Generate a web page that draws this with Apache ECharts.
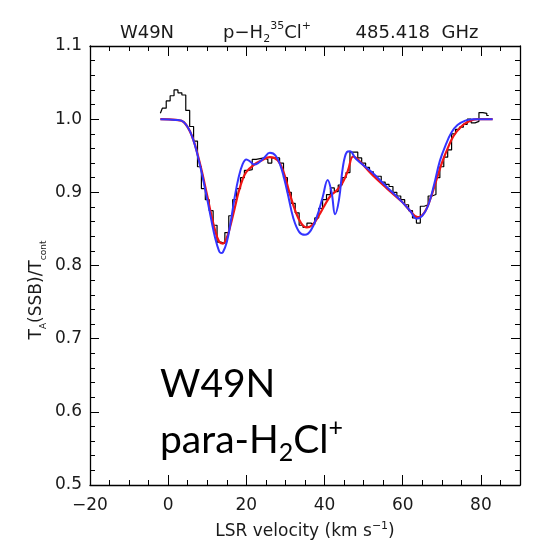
<!DOCTYPE html>
<html><head><meta charset="utf-8">
<script src="https://cdn.jsdelivr.net/npm/echarts@6/dist/echarts.min.js"></script>
<style>html,body{margin:0;padding:0;background:#fff}#c{width:540px;height:548px}</style>
</head><body><div id="c"></div>
<script>
// Observed spectrum (histogram), velocity in km/s
const obsV = [-2,-1,0,1,2,3,4,5,6,7,8,9,10,11,12,13,14,15,16,17,18,19,20,21,22,23,24,25,26,27,28,29,30,31,32,33,34,35,36,37,38,39,40,41,42,43,44,45,46,47,48,49,50,51,52,53,54,55,56,57,58,59,60,61,62,63,64,65,66,67,68,69,70,71,72,73,74,75,76,77,78,79,80,81,82];
const obsT = [1.008,1.015,1.025,1.032,1.040,1.036,1.033,1.012,0.990,0.970,0.935,0.905,0.890,0.875,0.855,0.832,0.830,0.845,0.868,0.890,0.905,0.920,0.930,0.931,0.945,0.946,0.947,0.945,0.940,0.947,0.947,0.940,0.920,0.900,0.885,0.872,0.855,0.852,0.858,0.856,0.865,0.878,0.890,0.897,0.906,0.901,0.910,0.920,0.927,0.955,0.955,0.947,0.940,0.934,0.928,0.922,0.922,0.914,0.911,0.908,0.900,0.895,0.890,0.883,0.875,0.865,0.858,0.881,0.883,0.895,0.897,0.920,0.935,0.948,0.958,0.980,0.986,0.989,0.993,1.000,0.995,0.997,1.009,1.008,1.005];
// Model 1 (blue)
const blueV = [-2,2,4,6,8,10,11,12,13,13.5,14,15,16,17,18,19,20,21,22,23,24.5,26,27.5,29,30.5,32,33.5,35,36.5,38,39.5,40.8,41.8,42.7,43.7,44.7,45.7,46.5,48,52,56,60,62,63.5,65,66.5,68,69.5,71,72.5,74,76,78,83];
const blueT = [1.0,0.999,0.996,0.978,0.94,0.89,0.863,0.838,0.82,0.817,0.818,0.832,0.86,0.893,0.92,0.938,0.945,0.942,0.938,0.94,0.947,0.954,0.95,0.932,0.9,0.865,0.846,0.842,0.848,0.866,0.893,0.917,0.9,0.87,0.89,0.935,0.955,0.956,0.946,0.928,0.907,0.886,0.874,0.864,0.868,0.882,0.91,0.943,0.965,0.982,0.992,0.998,1.0,1.0];
// Model 2 (red)
const redV = [-2,2,4,6,8,10,11,12,13,14,15,16,17,18,19,20,22,24,26,28,29.5,31,32.5,34,35.5,37,38.5,40,41.5,43,44.5,46,47.3,48.5,52,56,60,62,63.8,65.5,67,68.5,70,71.5,73,75,77,79,83];
const redT = [1.0,0.999,0.996,0.978,0.942,0.895,0.87,0.848,0.833,0.83,0.838,0.856,0.878,0.9,0.917,0.928,0.938,0.944,0.948,0.944,0.928,0.9,0.875,0.858,0.852,0.856,0.868,0.882,0.895,0.902,0.912,0.93,0.949,0.945,0.925,0.905,0.886,0.874,0.866,0.872,0.89,0.915,0.94,0.96,0.977,0.99,0.997,1.0,1.0];
const xTickLabels = ['−20','0','20','40','60','80'];
const yTickLabels = ['0.5','0.6','0.7','0.8','0.9','1.0','1.1'];

const zip = (a,b)=>a.map((v,i)=>[v,b[i]]);
const FONT = 'DejaVu Sans';
const INK = '#1a1a1a';
const chart = echarts.init(document.getElementById('c'), null, {renderer:'canvas'});

const xMajor = (pos, labels) => ({
  type:'value', position:pos, min:-20, max:90, interval:20,
  axisLine:{show:true, onZero:false, lineStyle:{color:'#000', width:1.3}},
  axisTick:{show:true, inside:true, length:10, lineStyle:{color:'#000', width:1}},
  axisLabel:{show:labels, margin:12, fontFamily:FONT, fontSize:17, color:INK,
    formatter:v=>{const i=Math.round((v+20)/20); return (Math.abs(v-(-20+20*i))<1e-6 && i<xTickLabels.length)?xTickLabels[i]:'';}},
  splitLine:{show:false},
  name: labels ? 'LSR velocity (km s{sup|−1})' : '',
  nameLocation:'middle', nameGap:36,
  nameTextStyle:{fontFamily:FONT, fontSize:17, color:INK, lineHeight:22,
    rich:{sup:{fontFamily:FONT, fontSize:11, color:INK, verticalAlign:'top', lineHeight:10}}}
});
const xMinor = (pos) => ({
  type:'value', position:pos, min:-20, max:90, interval:5,
  axisLine:{show:false}, axisTick:{show:true, inside:true, length:5, lineStyle:{color:'#000', width:1}},
  axisLabel:{show:false}, splitLine:{show:false}
});
const yAxisDef = (pos, labels) => ({
  type:'value', position:pos, min:0.5, max:1.1, interval:0.1,
  axisLine:{show:true, onZero:false, lineStyle:{color:'#000', width:1.3}},
  axisTick:{show:true, inside:true, length:9, lineStyle:{color:'#000', width:1}},
  minorTick:{show:true, splitNumber:5, length:5, lineStyle:{color:'#000', width:1}},
  axisLabel:{show:labels, margin:8, fontFamily:FONT, fontSize:17, color:INK,
    formatter:v=>{const i=Math.round((v-0.5)/0.1); return yTickLabels[i]||'';}},
  splitLine:{show:false}
});

chart.setOption({
  animation:false,
  backgroundColor:'#fff',
  grid:{left:90, right:20, top:46, bottom:63, containLabel:false, outerBoundsMode:'none'},
  xAxis:[xMajor('bottom',true), xMinor('bottom'), xMajor('top',false), xMinor('top')],
  yAxis:[yAxisDef('left',true), yAxisDef('right',false)],
  series:[
    {type:'line', name:'obs', data:zip(obsV,obsT), step:'middle', showSymbol:false, symbol:'none',
     lineStyle:{color:'#000', width:1.2}, z:2},
    {type:'line', name:'model2', data:zip(redV,redT), smooth:0.4, showSymbol:false, symbol:'none',
     lineStyle:{color:'#f01414', width:2.2}, z:3},
    {type:'line', name:'model1', data:zip(blueV,blueT), smooth:0.4, showSymbol:false, symbol:'none',
     lineStyle:{color:'#3434ff', width:2}, z:4}
  ],
  graphic:[
    {type:'text', x:147, y:33, style:{text:'W49N', fontFamily:FONT, fontSize:18, fill:INK, align:'center', verticalAlign:'middle'}},
    {type:'text', x:267, y:33, style:{text:'p−H{sub|2}{sup|35}Cl{sup|+}', fontFamily:FONT, fontSize:18, lineHeight:24, fill:INK, align:'center', verticalAlign:'middle',
      rich:{sub:{fontFamily:FONT, fontSize:11, fill:INK, verticalAlign:'bottom', lineHeight:10}, sup:{fontFamily:FONT, fontSize:11, fill:INK, verticalAlign:'top', lineHeight:10}}}},
    {type:'text', x:417, y:33, style:{text:'485.418  GHz', fontFamily:FONT, fontSize:18, fill:INK, align:'center', verticalAlign:'middle'}},
    {type:'text', x:37, y:290, rotation:Math.PI/2, style:{text:'T{sub|A}(SSB)/T{sub|cont}', fontFamily:FONT, fontSize:17, lineHeight:22, fill:INK, align:'center', verticalAlign:'middle',
      rich:{sub:{fontFamily:FONT, fontSize:9, fill:INK, verticalAlign:'bottom', lineHeight:8}}}},
    {type:'text', x:160, y:384, style:{text:'W49N', fontFamily:'Lato', fontSize:39, fill:'#000', align:'left', verticalAlign:'middle'}},
    {type:'text', x:160, y:440, style:{text:'para-H{sub|2}Cl{sup|+}', fontFamily:'Lato', fontSize:39, lineHeight:50, fill:'#000', align:'left', verticalAlign:'middle',
      rich:{sub:{fontFamily:'Lato', fontSize:25, fill:'#000', verticalAlign:'bottom', lineHeight:20}, sup:{fontFamily:'Lato', fontSize:25, fill:'#000', verticalAlign:'top', lineHeight:30}}}}
  ]
});
</script></body></html>
